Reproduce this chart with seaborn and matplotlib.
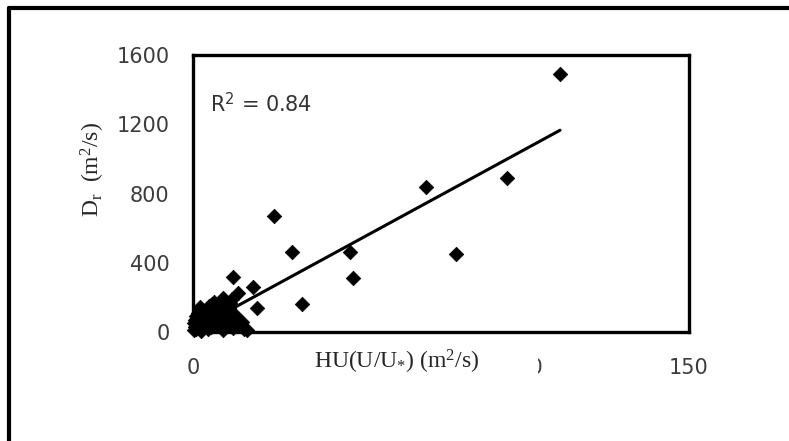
import matplotlib
matplotlib.use("Agg")
import matplotlib.pyplot as plt
from matplotlib.lines import Line2D
import numpy as np
import pandas as pd
import seaborn as sns

# Measured flow values: shear-flow parameter HU(U/U*) vs. dispersion coefficient
hu_ratio = [111.0, 70.5, 95.0, 24.5, 30.0, 47.5, 79.5, 48.5, 33.0, 12.0, 18.0, 13.7, 19.3,
            11.7, 9.2, 6.2, 2.1, 0.6, 0.5, 4.2, 7.2, 10.2, 11.2, 8.5, 9.2, 14.8, 16.3, 12.2,
            1.0, 2.0, 3.0, 1.5, 0.3, 3.5, 5.0, 6.0, 7.5, 4.5, 2.5, 8.0, 9.8, 5.5, 0.8, 1.8,
            13.0, 15.5, 10.5, 3.2, 6.8, 4.0, 0.2, 1.2, 5.8, 7.8, 9.5, 10.8, 3.8, 2.8,
            6.5, 8.8, 1.4, 12.8, 4.8]
dispersion = [1490, 840, 890, 670, 460, 460, 450, 310, 160, 320, 260, 225, 140,
              190, 195, 175, 146, 69, 31, 108, 108, 127, 166, 150, 12, 60, 10, 21,
              20, 60, 90, 110, 10, 40, 130, 80, 70, 20, 5, 40, 60, 30, 90, 120,
              40, 20, 80, 55, 150, 75, 50, 35, 160, 170, 185, 140, 95, 125,
              110, 95, 75, 100, 150]

# least-squares trend line coefficients and fit quality
trend_slope = 10.4
trend_intercept = 11.0
r_squared = 0.84

x_ticks = [0, 50, 100, 150]
x_tick_labels = ["0", "", "100", "150"]
y_ticks = [0, 400, 800, 1200, 1600]
y_tick_labels = ["0", "400", "800", "1200", "1600"]

df = pd.DataFrame({"hu": hu_ratio, "dr": dispersion})
x_span = np.array([min(hu_ratio), max(hu_ratio)])
trend = pd.DataFrame({"hu": x_span, "dr": trend_intercept + trend_slope * x_span})

sns.set_theme(style="white")
plt.rcParams["font.family"] = ["DejaVu Sans"]
plt.rcParams["mathtext.fontset"] = "custom"
plt.rcParams["mathtext.rm"] = "Liberation Serif"
plt.rcParams["mathtext.it"] = "Liberation Serif:italic"

fig = plt.figure(figsize=(7.89, 4.41), dpi=100)
ax = fig.add_axes([193 / 789, 1 - 332 / 441, (689 - 193) / 789, (332 - 55) / 441])

sns.lineplot(data=trend, x="hu", y="dr", color="black", lw=2.2, ax=ax, zorder=2)
sns.scatterplot(data=df, x="hu", y="dr", marker="D", s=55, color="black",
                edgecolor="black", linewidth=0.5, ax=ax, zorder=3, clip_on=False)

ax.set_xlim(0, 150)
ax.set_ylim(0, 1600)
ax.set_xticks(x_ticks)
ax.set_yticks(y_ticks)
ax.set_xticklabels(x_tick_labels)
ax.set_yticklabels(y_tick_labels)
ax.tick_params(axis="both", which="major", direction="out", length=3, width=0.8,
               color="#bbbbbb", labelsize=15, labelcolor="#3c3c3c")
ax.tick_params(axis="x", pad=16)
ax.tick_params(axis="y", pad=14)
ax.set_xlabel("")
ax.set_ylabel("")
for sp in ax.spines.values():
    sp.set_visible(True)
    sp.set_color("black")
    sp.set_linewidth(2.4)

ax.text(5.0, 1320, rf"R$^{{\mathsf{{2}}}}$ = {r_squared:.2f}", fontsize=15,
        color="#333333", ha="left", va="center")

# Axis titles in a serif face over white, as pasted captions
serif = ["Liberation Serif", "DejaVu Serif"]
fig.text(397 / 789, 1 - 362 / 441, r"HU(U/U$_{*}$) (m$^{2}$/s)", family=serif,
         fontsize=17, ha="center", va="center",
         bbox=dict(facecolor="white", edgecolor="none", pad=3))
fig.text(93 / 789, 1 - 169 / 441, r"D$_{\mathrm{r}}$  (m$^{2}$/s)", family=serif,
         fontsize=17, ha="center", va="center", rotation=90)
# white patch leaving only the closing stroke of the "100" tick label
fig.patches.append(plt.Rectangle((496 / 789, 1 - 382 / 441), 42 / 789, 30 / 441,
                                 transform=fig.transFigure, facecolor="white",
                                 edgecolor="none", zorder=5))

# outer frame: top and left rules
fig.add_artist(Line2D([9 / 789, 1.0], [1 - 8 / 441, 1 - 8 / 441], color="black",
                      lw=3, transform=fig.transFigure))
fig.add_artist(Line2D([9 / 789, 9 / 789], [0.0, 1 - 8 / 441], color="black",
                      lw=3, transform=fig.transFigure))

fig.savefig("out.png", dpi=100, facecolor="white")
